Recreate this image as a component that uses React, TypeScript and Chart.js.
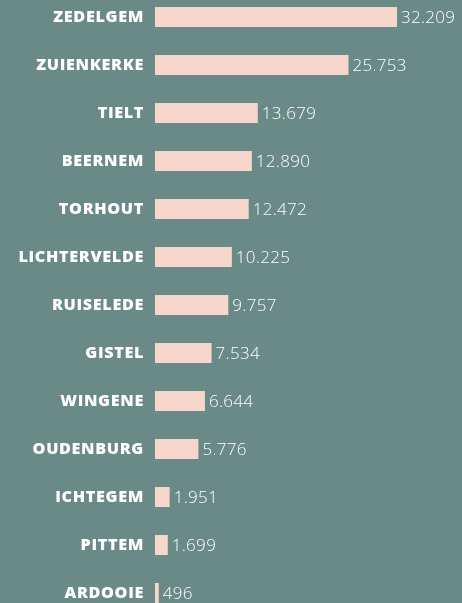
import React, { useEffect, useRef } from "react";
import { Chart, registerables } from "chart.js";

Chart.register(...registerables);

const categories = [
  "ZEDELGEM", "ZUIENKERKE", "TIELT", "BEERNEM", "TORHOUT", "LICHTERVELDE",
  "RUISELEDE", "GISTEL", "WINGENE", "OUDENBURG", "ICHTEGEM", "PITTEM", "ARDOOIE",
];
const values = [32209, 25753, 13679, 12890, 12472, 10225, 9757, 7534, 6644, 5776, 1951, 1699, 496];

const BG = "#698a87";
const BAR = "#f7d7cb";

function fmt(v: number): string {
  return String(v).replace(/\B(?=(\d{3})+(?!\d))/g, ".");
}

const labelsPlugin = {
  id: "labelsPlugin",
  afterDatasetsDraw(chart: any) {
    const ctx = chart.ctx;
    const meta = chart.getDatasetMeta(0);
    const yScale = chart.scales.y;
    const right = chart.chartArea.left - 11;
    const sx = 1.08;
    ctx.save();
    ctx.fillStyle = "#ffffff";
    ctx.textBaseline = "middle";
    // category labels (slightly widened heavy sans)
    ctx.font = "800 15px 'Open Sans'";
    ctx.textAlign = "right";
    (ctx as any).letterSpacing = "0.6px";
    categories.forEach((c, i) => {
      const y = yScale.getPixelForValue(i);
      ctx.save();
      ctx.translate(right, y + 1);
      ctx.scale(sx, 1);
      ctx.fillText(c, 0, 0);
      ctx.restore();
    });
    // value labels
    (ctx as any).letterSpacing = "0.3px";
    ctx.font = "300 17px 'Open Sans'";
    ctx.textAlign = "left";
    meta.data.forEach((bar: any, i: number) => {
      ctx.fillText(fmt(values[i]), bar.x + 4, bar.y + 1);
    });
    ctx.restore();
  },
};

export default function App() {
  const ref = useRef<HTMLCanvasElement>(null);
  useEffect(() => {
    document.body.style.background = BG;
    const chart = new Chart(ref.current!, {
      type: "bar",
      data: {
        labels: categories,
        datasets: [
          {
            data: values,
            backgroundColor: BAR,
            borderWidth: 0,
            barPercentage: 20 / 48,
            categoryPercentage: 1,
          },
        ],
      },
      options: {
        indexAxis: "y",
        animation: false,
        responsive: false,
        layout: { padding: { left: 155, right: 0, top: 0, bottom: 0 } },
        plugins: { legend: { display: false }, tooltip: { enabled: false } },
        scales: {
          x: { display: false, min: 0, max: 40862 },
          y: { display: false },
        },
      },
      plugins: [labelsPlugin],
    });
    return () => chart.destroy();
  }, []);
  return (
    <div style={{ position: "fixed", left: 0, top: 0, width: 462, height: 603, overflow: "hidden", background: BG }}>
      <canvas ref={ref} width={462} height={624} style={{ position: "absolute", left: 0, top: -7, width: 462, height: 624 }} />
    </div>
  );
}
